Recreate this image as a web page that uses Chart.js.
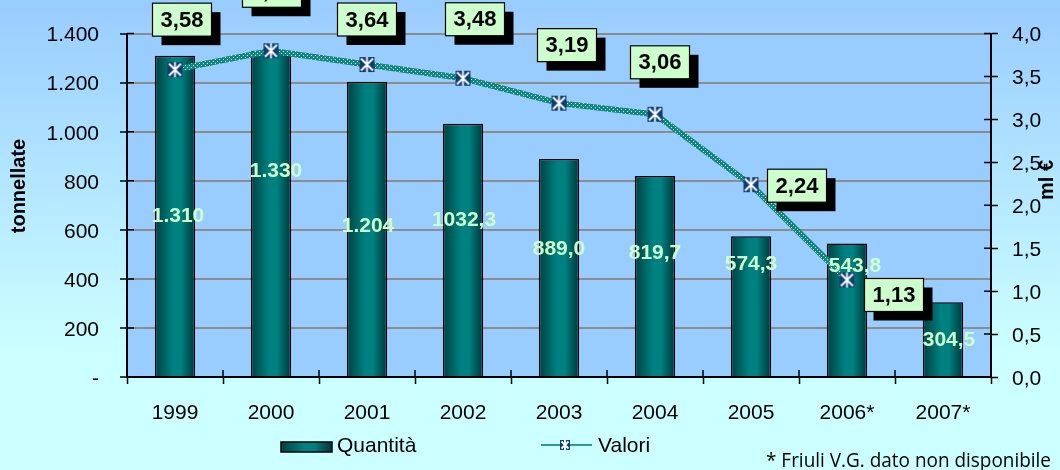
<!DOCTYPE html>
<html lang="it">
<head>
<meta charset="UTF-8">
<title>Quantità e valori</title>
<style>
  html, body { margin: 0; padding: 0; background: #ccffff; }
  #wrap { width: 1060px; height: 470px; }
</style>
</head>
<body>
<div id="wrap"><canvas id="grafico" width="1060" height="470"></canvas></div>
<script src="https://cdn.jsdelivr.net/npm/chart.js"></script>
<script>
// dati
const anni = ['1999', '2000', '2001', '2002', '2003', '2004', '2005', '2006*', '2007*'];
const quantita = [1310, 1330, 1204, 1032.3, 889.0, 819.7, 574.3, 543.8, 304.5];
const quantitaTesti = ['1.310', '1.330', '1.204', '1032,3', '889,0', '819,7', '574,3', '543,8', '304,5'];
const valori = [3.58, 3.80, 3.64, 3.48, 3.19, 3.06, 2.24, 1.13, null];
const tickSinistra = ['-', '200', '400', '600', '800', '1.000', '1.200', '1.400'];
const tickDestra = ['0,0', '0,5', '1,0', '1,5', '2,0', '2,5', '3,0', '3,5', '4,0'];

// posizione delle etichette (solo stile)
const posEtichetteBarre = [0.50, 0.63, 0.51, 0.62, 0.585, 0.615, 0.80, 0.83, 0.49];
const scartoEtichetteBarre = [3, 5, 1, 1, 0, 0, 0, 8, 6];
const scartoRiquadri = [[7, -50], [1, -60], [0, -45], [12, -59], [8, -58], [5, -52], [46, 1], [47, 15]];

const FONT = '"Liberation Sans", Arial, sans-serif';
const canvas = document.getElementById('grafico');
const ctx = canvas.getContext('2d');

function marcatore(lato) {
    const c = document.createElement('canvas');
    c.width = lato; c.height = lato;
    const x = c.getContext('2d');
    x.fillStyle = '#0f3d6e';
    x.fillRect(1, 1, lato - 2, lato - 2);
    x.strokeStyle = '#ffffff';
    x.lineWidth = 1.8;
    const m = 2.5, f = lato - 2.5;
    x.beginPath();
    x.moveTo(m, m); x.lineTo(f, f);
    x.moveTo(f, m); x.lineTo(m, f);
    x.moveTo(lato / 2, 1); x.lineTo(lato / 2, lato - 1);
    x.stroke();
    return c;
}

function motivoLinea() {
    const c = document.createElement('canvas');
    c.width = 4; c.height = 4;
    const x = c.getContext('2d');
    x.fillStyle = '#0d877f';
    x.fillRect(0, 0, 4, 4);
    x.fillStyle = '#d8fff2';
    x.fillRect(1, 1, 1, 1);
    x.fillRect(3, 3, 1, 1);
    return ctx.createPattern(c, 'repeat');
}

function gradienteBarra(x0, x1) {
    const g = ctx.createLinearGradient(x0, 0, x1, 0);
    g.addColorStop(0, '#004040');
    g.addColorStop(0.45, '#008080');
    g.addColorStop(0.65, '#008080');
    g.addColorStop(1, '#003636');
    return g;
}

function coloreBarra(c) {
    const chart = c.chart;
    const sx = chart.scales.x;
    if (c.type !== 'data' || !sx || !chart.chartArea) return '#007070';
    const centro = sx.getPixelForValue(c.dataIndex);
    const mezza = sx.width / anni.length * 0.42 / 2;
    return gradienteBarra(centro - mezza, centro + mezza);
}

const sfondo = {
    id: 'sfondo',
    beforeDraw(chart) {
        const { ctx, chartArea: a, width, height } = chart;
        const g = ctx.createLinearGradient(0, 0, 0, height);
        g.addColorStop(0, '#99ccff');
        g.addColorStop(0.75, '#ccffff');
        g.addColorStop(1, '#ccffff');
        ctx.save();
        ctx.fillStyle = g;
        ctx.fillRect(0, 0, width, height);
        ctx.fillStyle = '#99ccff';
        ctx.fillRect(a.left, a.top, a.right - a.left, a.bottom - a.top);
        ctx.restore();
    }
};

const etichette = {
    id: 'etichette',
    afterDatasetsDraw(chart) {
        const c = chart.ctx;
        const ys = chart.scales.y;
        c.save();
        c.font = 'bold 21px ' + FONT;
        c.textAlign = 'center';
        c.textBaseline = 'middle';
        c.fillStyle = '#ccffcc';
        chart.getDatasetMeta(1).data.forEach((bar, i) => {
            const y = ys.getPixelForValue(quantita[i] * posEtichetteBarre[i]);
            c.fillText(quantitaTesti[i], bar.x + scartoEtichetteBarre[i], y);
        });
        c.font = 'bold 22px ' + FONT;
        chart.getDatasetMeta(0).data.forEach((p, i) => {
            if (valori[i] == null) return;
            const [dx, dy] = scartoRiquadri[i];
            const w = 59, h = 33;
            const l = p.x + dx - w / 2, t = p.y + dy - h / 2;
            c.fillStyle = '#000';
            c.fillRect(l + 9, t + 9, w, h);
            c.fillStyle = '#ccffcc';
            c.fillRect(l, t, w, h);
            c.strokeStyle = '#000';
            c.lineWidth = 1.2;
            c.strokeRect(l, t, w, h);
            c.fillStyle = '#000';
            c.fillText(valori[i].toFixed(2).replace('.', ','), l + w / 2, t + h / 2 + 1);
        });
        c.restore();
    },
    afterDraw(chart) {
        const c = chart.ctx;
        const a = chart.chartArea;
        c.save();
        // tacche interne sugli assi
        c.strokeStyle = '#000';
        c.lineWidth = 1.5;
        c.beginPath();
        chart.scales.y.ticks.forEach((t, i) => {
            const y = chart.scales.y.getPixelForTick(i);
            c.moveTo(a.left, y); c.lineTo(a.left + 7, y);
        });
        chart.scales.y1.ticks.forEach((t, i) => {
            const y = chart.scales.y1.getPixelForTick(i);
            c.moveTo(a.right - 7, y); c.lineTo(a.right, y);
        });
        const passo = (a.right - a.left) / anni.length;
        for (let i = 0; i <= anni.length; i++) {
            const x = a.left + i * passo;
            c.moveTo(x, a.bottom - 7); c.lineTo(x, a.bottom);
        }
        c.stroke();

        c.fillStyle = '#000';
        c.textAlign = 'center';
        c.textBaseline = 'middle';
        // titoli degli assi
        c.font = 'bold 20px ' + FONT;
        c.save();
        c.translate(19, 186);
        c.rotate(-Math.PI / 2);
        c.fillText('tonnellate', 0, 0);
        c.restore();
        c.save();
        c.translate(1047, 180);
        c.rotate(-Math.PI / 2);
        c.fillText('ml €', 0, 0);
        c.restore();

        // legenda
        c.fillStyle = gradienteBarra(281, 332);
        c.fillRect(281, 442, 51, 10);
        c.lineWidth = 1.5;
        c.strokeRect(281, 442, 51, 10);
        c.strokeStyle = '#2a9c96';
        c.lineWidth = 2;
        c.beginPath();
        c.moveTo(541, 445); c.lineTo(592, 445);
        c.stroke();
        c.drawImage(marcatore(12), 565 - 6, 445 - 6);
        c.font = '21px ' + FONT;
        c.fillStyle = '#000';
        c.textAlign = 'left';
        c.fillText('Quantità', 337, 446);
        c.fillText('Valori', 598, 446);

        // nota
        c.font = '20px "Open Sans", ' + FONT;
        c.fillText('* Friuli V.G. dato non disponibile', 766, 461, 285);
        c.restore();
    }
};

new Chart(ctx, {
    type: 'bar',
    data: {
        labels: anni,
        datasets: [{
            type: 'line',
            label: 'Valori',
            data: valori,
            yAxisID: 'y1',
            borderColor: motivoLinea(),
            borderWidth: 6,
            pointStyle: marcatore(17),
            pointRadius: 8,
            tension: 0,
            order: 0
        }, {
            type: 'bar',
            label: 'Quantità',
            data: quantita,
            yAxisID: 'y',
            backgroundColor: coloreBarra,
            borderColor: '#000',
            borderWidth: 1.5,
            barPercentage: 0.42,
            categoryPercentage: 1,
            order: 1
        }]
    },
    options: {
        responsive: false,
        animation: false,
        layout: { padding: { top: 22, left: 0, right: 0, bottom: 0 } },
        plugins: {
            legend: { display: false },
            tooltip: { enabled: false }
        },
        scales: {
            x: {
                ticks: { padding: 17, color: '#000', font: { size: 21, family: FONT } },
                grid: { drawOnChartArea: false, offset: true, tickColor: '#000', tickLength: 7, tickWidth: 1.5 },
                border: { color: '#000', width: 2 },
                afterFit(s) { s.height = 93; }
            },
            y: {
                position: 'left',
                min: 0,
                max: 1400,
                ticks: {
                    stepSize: 200, padding: 21, color: '#000', labelOffset: 2,
                    font: { size: 21, family: FONT },
                    callback: (v, i) => tickSinistra[i]
                },
                grid: {
                    color: c => c.index === 0 ? 'rgba(0,0,0,0)' : '#8c8c8c',
                    lineWidth: 2, tickColor: '#000', tickLength: 7, tickWidth: 1.5
                },
                border: { color: '#000', width: 2 },
                afterFit(s) { s.width = 127; }
            },
            y1: {
                position: 'right',
                min: 0,
                max: 4,
                ticks: {
                    stepSize: 0.5, padding: 14, color: '#000', labelOffset: 2,
                    font: { size: 21, family: FONT },
                    callback: (v, i) => tickDestra[i]
                },
                grid: { drawOnChartArea: false, tickColor: '#000', tickLength: 7, tickWidth: 1.5 },
                border: { color: '#000', width: 2 },
                afterFit(s) { s.width = 69; }
            }
        }
    },
    plugins: [sfondo, etichette]
});
</script>
</body>
</html>
